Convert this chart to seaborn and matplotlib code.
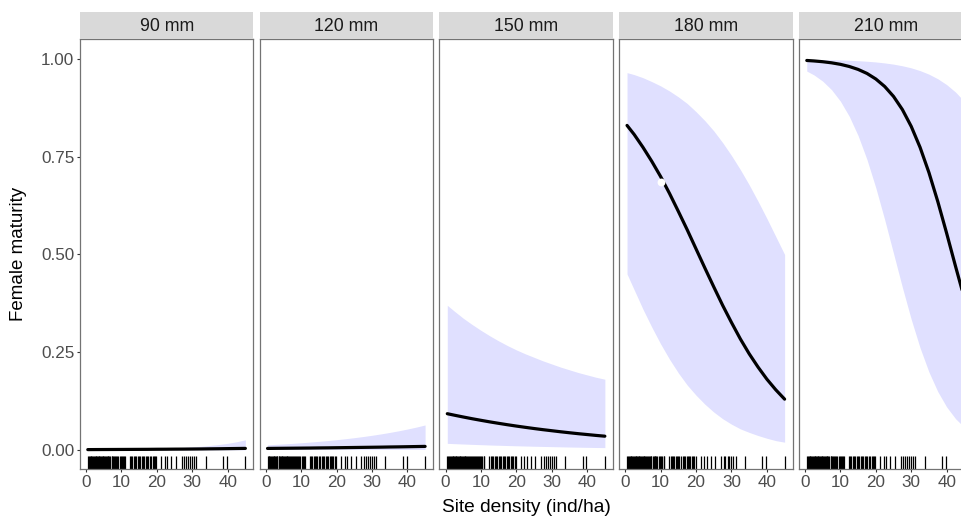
import numpy as np
import pandas as pd
import matplotlib
matplotlib.use("Agg")
import matplotlib.pyplot as plt
import seaborn as sns

## data
sizes = ["90 mm", "120 mm", "150 mm", "180 mm", "210 mm"]

density_grid = [0.5, 2.5, 5, 7.5, 10, 12.5, 15, 17.5, 20, 22.5, 25, 27.5,
                30, 32.5, 35, 37.5, 40, 42.5, 45]

fit_90 = [0.0010, 0.0011, 0.0012, 0.0013, 0.0014, 0.0015, 0.0016, 0.0017, 0.0019, 0.0020,
          0.0022, 0.0023, 0.0025, 0.0027, 0.0030, 0.0032, 0.0035, 0.0038, 0.0041]
lo_90 = [0.0004, 0.0004, 0.0004, 0.0004, 0.0004, 0.0004, 0.0004, 0.0004, 0.0004, 0.0004,
         0.0004, 0.0004, 0.0004, 0.0004, 0.0004, 0.0005, 0.0005, 0.0005, 0.0005]
hi_90 = [0.0020, 0.0021, 0.0023, 0.0025, 0.0027, 0.0030, 0.0033, 0.0037, 0.0042, 0.0048,
         0.0056, 0.0066, 0.0079, 0.0095, 0.0115, 0.0140, 0.0170, 0.0210, 0.0260]

fit_120 = [0.0040, 0.0042, 0.0044, 0.0046, 0.0048, 0.0050, 0.0053, 0.0055, 0.0058, 0.0061,
           0.0064, 0.0067, 0.0070, 0.0073, 0.0077, 0.0080, 0.0084, 0.0088, 0.0092]
lo_120 = [0.0012, 0.0012, 0.0012, 0.0012, 0.0012, 0.0012, 0.0012, 0.0012, 0.0012, 0.0012,
          0.0012, 0.0012, 0.0012, 0.0013, 0.0013, 0.0013, 0.0013, 0.0013, 0.0013]
hi_120 = [0.0130, 0.0142, 0.0155, 0.0169, 0.0185, 0.0202, 0.0221, 0.0241, 0.0264, 0.0288,
          0.0315, 0.0344, 0.0376, 0.0411, 0.0449, 0.0490, 0.0536, 0.0585, 0.0640]

fit_150 = [0.0928, 0.0890, 0.0844, 0.0800, 0.0759, 0.0719, 0.0682, 0.0646, 0.0612, 0.0580,
           0.0549, 0.0520, 0.0493, 0.0466, 0.0441, 0.0417, 0.0395, 0.0373, 0.0353]
lo_150 = [0.0170, 0.0162, 0.0153, 0.0144, 0.0136, 0.0128, 0.0121, 0.0114, 0.0108, 0.0102,
          0.0096, 0.0091, 0.0086, 0.0081, 0.0076, 0.0072, 0.0068, 0.0064, 0.0061]
hi_150 = [0.370, 0.355, 0.337, 0.321, 0.306, 0.292, 0.279, 0.267, 0.256, 0.246,
          0.237, 0.228, 0.220, 0.212, 0.205, 0.198, 0.192, 0.186, 0.181]

fit_180 = [0.830, 0.807, 0.774, 0.738, 0.699, 0.656, 0.610, 0.563, 0.514, 0.465,
           0.417, 0.370, 0.326, 0.284, 0.246, 0.212, 0.181, 0.154, 0.130]
lo_180 = [0.450, 0.410, 0.360, 0.314, 0.271, 0.232, 0.197, 0.166, 0.140, 0.117,
          0.097, 0.080, 0.066, 0.054, 0.045, 0.037, 0.030, 0.024, 0.020]
hi_180 = [0.965, 0.960, 0.952, 0.942, 0.931, 0.918, 0.903, 0.886, 0.865, 0.842,
          0.816, 0.786, 0.753, 0.717, 0.678, 0.636, 0.592, 0.546, 0.500]

fit_210 = [0.9961, 0.9949, 0.9929, 0.9901, 0.9862, 0.9807, 0.9732, 0.9629, 0.9487, 0.9296,
           0.9041, 0.8705, 0.8274, 0.7738, 0.7094, 0.6353, 0.5542, 0.4700, 0.3876]
lo_210 = [0.9689, 0.9593, 0.9432, 0.9213, 0.8919, 0.8532, 0.8038, 0.7427, 0.6704, 0.5890,
          0.5025, 0.4158, 0.3340, 0.2611, 0.1994, 0.1493, 0.1101, 0.0802, 0.0579]
hi_210 = [0.9991, 0.9989, 0.9985, 0.9980, 0.9974, 0.9966, 0.9955, 0.9941, 0.9923, 0.9898,
          0.9867, 0.9825, 0.9772, 0.9701, 0.9610, 0.9493, 0.9343, 0.9153, 0.8914]

# observed site densities (rug)
site_density = [0.5, 0.8, 1.0, 1.3, 1.5, 1.7, 2.0, 2.2, 2.4, 2.7, 2.9, 3.1, 3.3, 3.6,
                3.8, 4.0, 4.2, 4.5, 4.7, 4.9, 5.2, 5.4, 5.6, 5.9, 6.1, 6.3, 6.6, 6.9,
                7.2, 7.4, 7.7, 8.0, 8.3, 8.5, 8.8, 9.1, 9.5, 9.8, 10.1, 10.4, 10.8, 11.0,
                12.4, 12.8, 13.1, 13.5, 13.9, 14.2, 14.6, 15.0, 15.3, 15.8, 16.2, 16.5,
                16.9, 17.3, 17.6, 18.0, 18.4, 18.8, 19.1, 19.5, 19.9,
                21.3, 22.3, 23.0, 24.1, 25.4, 27.0, 27.8, 28.3, 28.9, 29.4, 30.0, 30.5,
                31.2, 33.8, 38.7, 39.8, 45.0]

# small white glitch on the 180 mm curve
glitch_x = [10.0]
glitch_y = [0.686]

fits = [fit_90, fit_120, fit_150, fit_180, fit_210]
lows = [lo_90, lo_120, lo_150, lo_180, lo_210]
highs = [hi_90, hi_120, hi_150, hi_180, hi_210]

rows = []
for s, f, lo, hi in zip(sizes, fits, lows, highs):
    for x, a, b, c in zip(density_grid, f, lo, hi):
        rows.append({"size": s, "density": x, "fit": a, "lower": b, "upper": c})
df = pd.DataFrame(rows)


def main():
    sns.set_theme(style="white")
    plt.rcParams['font.family'] = ['Liberation Sans', 'DejaVu Sans']

    W, H = 962, 519
    fig = plt.figure(figsize=(W / 100, H / 100), dpi=100)

    left0, pitch, pw = 80, 179.75, 173.5
    top, bottom = 39, 469
    strip_h = 27
    band_col = '#E0E0FF'
    border = '#737373'

    for i, s in enumerate(sizes):
        x0 = left0 + i * pitch
        ax = fig.add_axes([x0 / W, (H - bottom) / H, pw / W, (bottom - top) / H])
        d = df[df["size"] == s]

        ax.fill_between(d["density"], d["lower"], d["upper"], color=band_col, lw=0, zorder=1)
        sns.lineplot(x="density", y="fit", data=d, color='black', linewidth=2.3,
                     estimator=None, ax=ax, zorder=3)
        sns.rugplot(x=site_density, height=0.03, color='black', linewidth=0.9,
                    expand_margins=False, ax=ax, zorder=2)
        if s == "180 mm":
            ax.scatter(glitch_x, glitch_y, s=32, color='white', zorder=4, linewidths=0)

        ax.set_xlim(-1.7, 47.3)
        ax.set_ylim(-0.0486, 1.051)
        ax.set_xticks([0, 10, 20, 30, 40])
        ax.set_xticklabels(['0', '10', '20', '30', '40'])
        ax.set_yticks([0, 0.25, 0.5, 0.75, 1.0])
        ax.set_xlabel('')
        ax.set_ylabel('')
        ax.tick_params(axis='both', length=2.5, width=0.8, color='#333333',
                       labelsize=12.3, labelcolor='#4d4d4d', pad=1.5,
                       bottom=True, left=(i == 0))
        if i == 0:
            ax.set_yticklabels(['{:.2f}'.format(v) for v in [0, 0.25, 0.5, 0.75, 1.0]])
        else:
            ax.set_yticklabels([])
        for sp in ax.spines.values():
            sp.set_color(border)
            sp.set_linewidth(0.9)

        # facet strip
        sax = fig.add_axes([x0 / W, (H - top) / H, pw / W, strip_h / H])
        sax.set_facecolor('#d9d9d9')
        sax.set_xticks([])
        sax.set_yticks([])
        for sp in sax.spines.values():
            sp.set_visible(False)
        sax.text(0.5, 0.48, s, ha='center', va='center', fontsize=12.8,
                 color='#1a1a1a', transform=sax.transAxes)

    fig.text(526 / W, 1 - 508 / H, 'Site density (ind/ha)', ha='center', va='center',
             fontsize=13.8, color='black')
    fig.text(19 / W, 1 - 254 / H, 'Female maturity', ha='center', va='center',
             rotation=90, fontsize=13.5, color='black')

    fig.savefig('out.png', dpi=100, facecolor='white')


if __name__ == '__main__':
    main()
